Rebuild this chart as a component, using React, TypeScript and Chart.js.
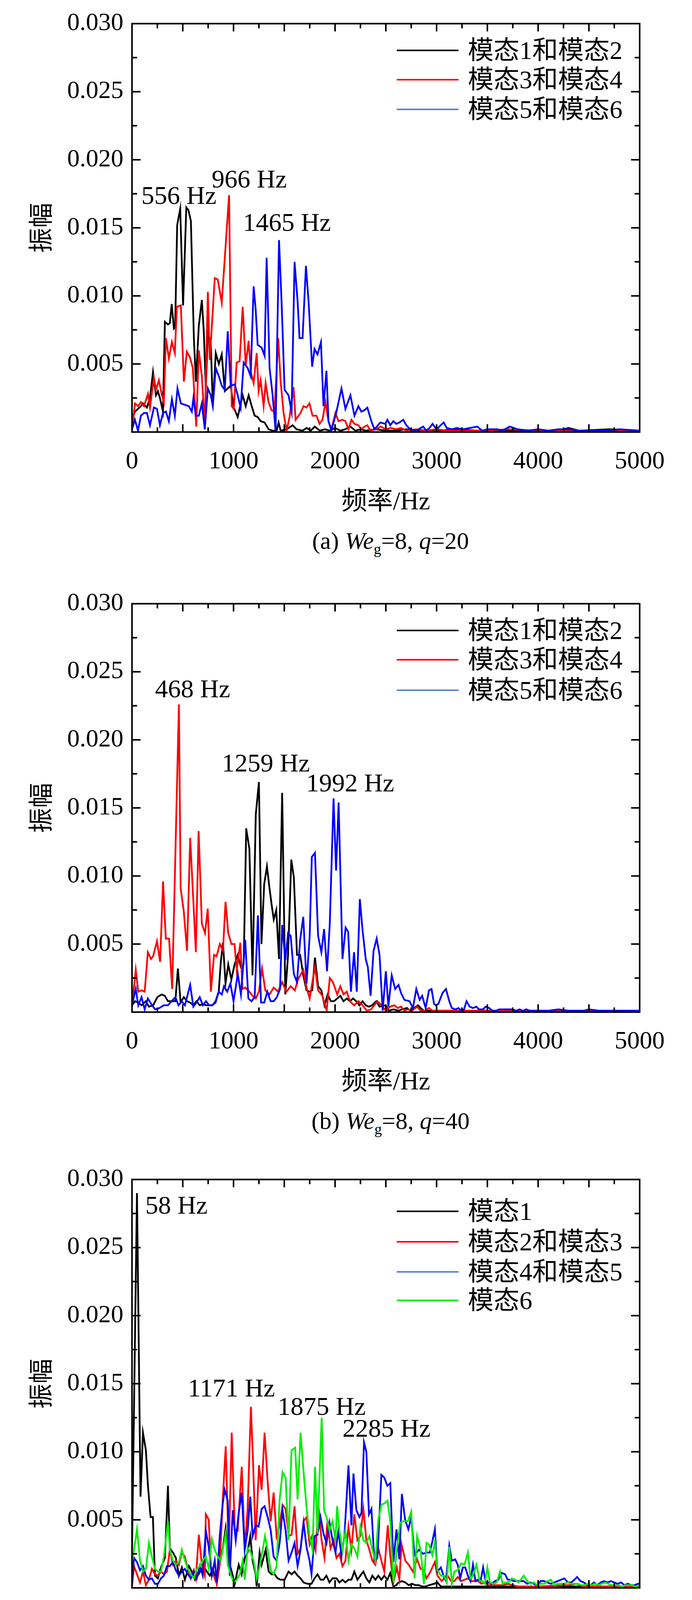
import React, { useEffect, useRef } from 'react';
import { Chart, registerables } from 'chart.js';

Chart.register(...registerables);

const SERIF = '"Liberation Serif", "Times New Roman", "Noto Sans CJK SC", serif';

type Pair = [number, number];

// ---------- axis ticks ----------
const X_TICKS = [0, 1000, 2000, 3000, 4000, 5000];
const Y_TICKS = [0.005, 0.01, 0.015, 0.02, 0.025, 0.03];

// ---------- panel (a) We_g=8, q=20 ----------
const A_MODE12: Pair[] = [[0,0.0002],[15,0.0012],[29,0.0015],[59,0.0017],[88,0.0019],[108,0.0021],[147,0.0018],[177,0.0025],[207,0.0044],[236,0.0027],[255,0.003],[275,0.0025],[305,0.0015],[324,0.0081],[354,0.0079],[373,0.008],[391,0.0094],[413,0.0076],[425,0.0077],[445,0.0152],[475,0.0164],[503,0.0093],[535,0.0165],[556,0.0163],[580,0.0155],[609,0.007],[629,0.0037],[658,0.0078],[688,0.0097],[707,0.0074],[727,0.0032],[747,0.0073],[776,0.0065],[796,0.0019],[825,0.0058],[855,0.005],[884,0.0057],[914,0.003],[943,0.0032],[972,0.0034],[1002,0.0018],[1041,0.0011],[1090,0.0027],[1120,0.0019],[1149,0.0027],[1179,0.0019],[1208,0.0012],[1238,0.0011],[1267,0.0008],[1306,0.0007],[1346,0.0002],[1385,0.0001],[1424,0.0001],[1444,0.0007],[1464,0.0001],[1523,0.0002],[1582,0.0005],[1621,0.0002],[1680,0.0001],[1720,0.0003],[1760,0.0001],[1800,0.0004],[1850,0.0001],[1900,0.0002],[1950,0.0001],[2000,0.0003],[2050,0.0001],[2100,0.0002],[2150,0.0004],[2200,0.0001],[2250,0.0002],[2300,0.0001],[2400,0.0002],[2500,0.0001],[2600,0.0001],[2700,0.0002],[2800,0.0001],[3000,0.0001],[3200,0.0002],[3400,0.0001],[3600,0.0001],[3800,0.0001],[4000,0.0001],[4200,0.0001],[4300,0.0003],[4400,0.0001],[4700,0.0002],[5000,0.0001]];
const A_MODE34: Pair[] = [[0,0.0001],[29,0.0021],[59,0.0019],[88,0.0022],[118,0.0019],[157,0.0028],[177,0.0018],[216,0.004],[236,0.0031],[265,0.0038],[295,0.0027],[314,0.0022],[334,0.0069],[363,0.0054],[393,0.0066],[422,0.0058],[442,0.0092],[481,0.0093],[511,0.0037],[540,0.0059],[570,0.0055],[599,0.0047],[633,0.0004],[658,0.006],[688,0.0041],[717,0.0004],[747,0.0103],[766,0.0053],[786,0.0077],[815,0.0113],[845,0.0112],[884,0.0095],[956,0.0174],[982,0.0019],[1002,0.0017],[1031,0.0051],[1060,0.0052],[1090,0.0092],[1120,0.0049],[1149,0.0067],[1170,0.0044],[1198,0.0036],[1228,0.0058],[1247,0.003],[1267,0.0038],[1296,0.0019],[1316,0.0036],[1345,0.0022],[1375,0.0016],[1404,0.0015],[1440,0.0069],[1464,0.0037],[1493,0.0014],[1523,0.0001],[1552,0.0011],[1591,0.0033],[1611,0.0009],[1631,0.0011],[1660,0.0014],[1690,0.0019],[1719,0.0018],[1748,0.0021],[1778,0.0012],[1817,0.0012],[1847,0.0006],[1876,0.0009],[1906,0.0022],[1935,0.0008],[1964,0.0002],[2004,0.0014],[2033,0.0008],[2073,0.0009],[2102,0.0008],[2132,0.0002],[2161,0.0009],[2191,0.0006],[2230,0.0005],[2259,0.0002],[2289,0.0004],[2318,0.0005],[2348,0.0001],[2400,0.0002],[2450,0.0004],[2500,0.0002],[2550,0.0003],[2600,0.0002],[2650,0.0003],[2700,0.0001],[2800,0.0002],[2900,0.0001],[3000,0.0002],[3100,0.0001],[3300,0.0001],[3500,0.0001],[3700,0.0002],[4000,0.0001],[4300,0.0001],[4600,0.0001],[5000,0.0001]];
const A_MODE56: Pair[] = [[0,0.0002],[29,0.0009],[59,0.0001],[88,0.0012],[118,0.0014],[147,0.0014],[177,0.0005],[216,0.0018],[246,0.0017],[275,0.0005],[305,0.0014],[334,0.0015],[363,0.0008],[393,0.0024],[422,0.0012],[448,0.0032],[481,0.0021],[521,0.002],[560,0.0019],[589,0.0015],[605,0.0025],[629,0.0012],[658,0.0012],[688,0.0021],[717,0.0002],[747,0.0032],[776,0.0027],[796,0.0019],[825,0.0047],[855,0.0041],[884,0.0034],[914,0.0031],[943,0.0074],[972,0.0034],[1012,0.0035],[1041,0.0027],[1070,0.0018],[1100,0.0051],[1139,0.0047],[1169,0.0041],[1198,0.0107],[1218,0.009],[1238,0.0064],[1277,0.0062],[1306,0.0056],[1326,0.0128],[1355,0.0047],[1385,0.0027],[1414,0.0001],[1448,0.0141],[1473,0.0096],[1503,0.0031],[1542,0.0027],[1572,0.0015],[1601,0.0125],[1631,0.0096],[1650,0.0069],[1680,0.0069],[1713,0.0122],[1739,0.0096],[1774,0.0048],[1798,0.0061],[1827,0.0057],[1861,0.0066],[1886,0.0019],[1915,0.0045],[1935,0.0008],[1964,0.0001],[2014,0.0015],[2063,0.0032],[2102,0.0017],[2151,0.0027],[2191,0.0012],[2230,0.0019],[2259,0.0015],[2289,0.0016],[2318,0.0018],[2357,0.0008],[2387,0.0002],[2446,0.0007],[2495,0.0006],[2515,0.0009],[2544,0.0005],[2574,0.0008],[2603,0.0006],[2633,0.0007],[2672,0.0009],[2701,0.0005],[2740,0.0002],[2800,0.0001],[2868,0.0004],[2897,0.0001],[2930,0.0003],[2960,0.0006],[3000,0.0002],[3040,0.0005],[3070,0.0007],[3100,0.0003],[3150,0.0002],[3200,0.0003],[3260,0.0002],[3330,0.0003],[3400,0.0004],[3450,0.0001],[3500,0.0002],[3600,0.0002],[3650,0.0001],[3720,0.0004],[3800,0.0002],[3900,0.0001],[4000,0.0002],[4100,0.0001],[4200,0.0002],[4300,0.0002],[4400,0.0001],[4500,0.0001],[4700,0.0001],[4800,0.0002],[5000,0.0001]];

// ---------- panel (b) We_g=8, q=40 ----------
const B_MODE12: Pair[] = [[0,0.0005],[31,0.0008],[62,0.0007],[94,0.0005],[135,0.0008],[167,0.0004],[208,0.0005],[250,0.0011],[292,0.0013],[323,0.0012],[354,0.0008],[396,0.0008],[427,0.0008],[452,0.0032],[479,0.0007],[510,0.0011],[542,0.0008],[573,0.0007],[604,0.0005],[635,0.0008],[667,0.0005],[698,0.0006],[729,0.0005],[760,0.0005],[792,0.0005],[823,0.0008],[854,0.0015],[875,0.0037],[896,0.0051],[921,0.0021],[948,0.0035],[979,0.0024],[1010,0.0035],[1042,0.0042],[1073,0.0033],[1100,0.0035],[1125,0.0135],[1156,0.012],[1187,0.0027],[1219,0.0145],[1250,0.0169],[1275,0.005],[1302,0.0094],[1329,0.0107],[1356,0.009],[1375,0.0079],[1396,0.0068],[1421,0.0075],[1448,0.0039],[1479,0.0161],[1510,0.0013],[1537,0.0042],[1569,0.0112],[1594,0.0099],[1625,0.0042],[1656,0.0042],[1687,0.0027],[1719,0.0016],[1750,0.0015],[1775,0.0016],[1802,0.004],[1833,0.0019],[1865,0.0016],[1896,0.0005],[1927,0.0013],[1958,0.0008],[1990,0.0008],[2021,0.001],[2052,0.0012],[2083,0.0008],[2115,0.001],[2146,0.0008],[2177,0.001],[2208,0.0008],[2240,0.0005],[2271,0.0008],[2302,0.0005],[2333,0.0004],[2365,0.0005],[2406,0.0008],[2438,0.0004],[2500,0.0005],[2525,0.0001],[2575,0.0002],[2625,0.0001],[2658,0.0002],[2708,0.0003],[2742,0.0001],[2817,0.0005],[2842,0.0003],[2875,0.0001],[2958,0.0001],[3050,0.0001],[3150,0.0001],[3300,0.0001],[3500,0.0001],[4000,0.0001],[4500,0.0001],[5000,0.0001]];
const B_MODE34: Pair[] = [[0,0.0004],[37,0.0031],[62,0.0015],[94,0.0016],[125,0.0015],[156,0.0044],[187,0.0039],[208,0.0041],[246,0.0052],[277,0.0037],[306,0.0096],[333,0.0054],[365,0.0054],[396,0.0017],[462,0.0226],[479,0.0091],[510,0.0074],[542,0.0045],[573,0.0128],[604,0.0082],[629,0.0044],[656,0.0133],[688,0.0065],[719,0.0058],[746,0.0076],[777,0.0015],[808,0.0042],[833,0.0041],[865,0.005],[896,0.0045],[921,0.0081],[948,0.0058],[979,0.005],[1010,0.005],[1031,0.0031],[1067,0.0051],[1088,0.0017],[1115,0.0018],[1156,0.0015],[1187,0.0012],[1219,0.001],[1250,0.0015],[1281,0.0032],[1313,0.0016],[1354,0.0013],[1396,0.0018],[1438,0.0015],[1479,0.0022],[1521,0.0015],[1563,0.0019],[1604,0.0016],[1635,0.0024],[1687,0.0031],[1719,0.0018],[1750,0.001],[1781,0.0024],[1802,0.0033],[1833,0.0016],[1875,0.0012],[1917,0.0001],[1948,0.0025],[1979,0.0022],[2021,0.0013],[2052,0.0019],[2083,0.0013],[2115,0.0015],[2146,0.0008],[2188,0.0005],[2229,0.0008],[2271,0.0005],[2313,0.0001],[2354,0.0002],[2417,0.0008],[2458,0.0005],[2500,0.0001],[2542,0.0004],[2583,0.0005],[2617,0.0003],[2650,0.0004],[2683,0.0001],[2717,0.0002],[2758,0.0001],[2808,0.0004],[2842,0.0001],[2883,0.0001],[2925,0.0003],[2958,0.0001],[3000,0.0001],[3200,0.0001],[3400,0.0001],[3600,0.0001],[3800,0.0001],[4000,0.0001],[4500,0.0001],[5000,0.0001]];
const B_MODE56: Pair[] = [[0,0.0005],[37,0.0017],[62,0.0005],[94,0.0011],[125,0.0002],[156,0.001],[198,0.0005],[229,0.0002],[271,0.0003],[312,0.0005],[354,0.0005],[427,0.0011],[458,0.0005],[490,0.0008],[521,0.0005],[573,0.002],[604,0.0004],[635,0.0007],[667,0.0011],[698,0.0005],[729,0.0008],[760,0.0005],[792,0.0005],[823,0.0007],[854,0.0015],[885,0.0013],[906,0.0019],[938,0.0015],[969,0.0021],[1000,0.0008],[1042,0.0028],[1073,0.0013],[1115,0.0053],[1146,0.001],[1177,0.0008],[1208,0.0011],[1240,0.0071],[1271,0.0007],[1302,0.0007],[1333,0.0015],[1365,0.0008],[1396,0.0008],[1427,0.0011],[1458,0.0017],[1479,0.0064],[1510,0.0038],[1537,0.0058],[1563,0.0056],[1594,0.0028],[1625,0.0022],[1656,0.0053],[1687,0.007],[1719,0.0021],[1750,0.0056],[1771,0.0114],[1802,0.0117],[1833,0.0056],[1865,0.0044],[1892,0.0061],[1921,0.003],[1948,0.0065],[1985,0.0157],[2010,0.0104],[2035,0.0154],[2073,0.0039],[2104,0.0062],[2129,0.0059],[2156,0.0015],[2187,0.0044],[2214,0.0015],[2244,0.0083],[2271,0.006],[2302,0.0039],[2323,0.0033],[2350,0.0012],[2379,0.0045],[2410,0.0054],[2438,0.0042],[2469,0.0001],[2500,0.003],[2525,0.0004],[2558,0.0027],[2592,0.0017],[2625,0.002],[2650,0.0014],[2683,0.0009],[2733,0.0008],[2767,0.0003],[2800,0.0017],[2833,0.0009],[2858,0.0012],[2892,0.0003],[2925,0.0016],[2950,0.0017],[2975,0.0006],[2992,0.0005],[3017,0.0006],[3058,0.0014],[3092,0.0017],[3125,0.0008],[3150,0.0003],[3183,0.0002],[3217,0.0003],[3242,0.0001],[3270,0.0002],[3295,0.0008],[3325,0.0004],[3358,0.0003],[3392,0.0004],[3417,0.0002],[3458,0.0002],[3483,0.0004],[3517,0.0003],[3550,0.0001],[3583,0.0001],[3617,0.0002],[3650,0.0002],[3683,0.0002],[3717,0.0002],[3750,0.0002],[3783,0.0001],[3817,0.0002],[3850,0.0001],[3883,0.0002],[3917,0.0001],[4000,0.0001],[4100,0.0001],[4200,0.0002],[4300,0.0001],[4450,0.0001],[4500,0.0002],[4600,0.0001],[4800,0.0001],[5000,0.0001]];

// ---------- panel (c) We_g=8, q=60 ----------
const C_MODE1: Pair[] = [[0,0.0025],[49,0.029],[84,0.0067],[108,0.0114],[137,0.0101],[157,0.0075],[183,0.0052],[206,0.0052],[226,0.0009],[255,0.0007],[285,0.0015],[324,0.0022],[354,0.0075],[373,0.0029],[403,0.0026],[432,0.0022],[462,0.0009],[491,0.0015],[521,0.0006],[560,0.0016],[589,0.0012],[619,0.0006],[648,0.0009],[678,0.0013],[707,0.0016],[737,0.0012],[766,0.0009],[796,0.0014],[835,0.0003],[864,0.002],[894,0.0029],[923,0.0044],[953,0.002],[982,0.0012],[1012,0.0003],[1051,0.0017],[1080,0.001],[1110,0.0022],[1139,0.0026],[1165,0.0038],[1188,0.002],[1218,0.001],[1228,0.0001],[1257,0.0026],[1277,0.0017],[1316,0.0028],[1346,0.0012],[1375,0.001],[1405,0.001],[1434,0.0007],[1464,0.0006],[1503,0.0006],[1542,0.0012],[1572,0.001],[1601,0.0012],[1631,0.0009],[1660,0.0007],[1690,0.0004],[1729,0.0003],[1768,0.0003],[1798,0.0007],[1827,0.001],[1857,0.0006],[1886,0.0006],[1915,0.0009],[1945,0.0004],[1974,0.0007],[2014,0.0007],[2043,0.0004],[2073,0.0006],[2102,0.0004],[2132,0.0006],[2161,0.0006],[2190,0.0012],[2220,0.0006],[2249,0.0009],[2279,0.0012],[2308,0.0007],[2338,0.0004],[2367,0.0009],[2397,0.0006],[2426,0.0009],[2456,0.0006],[2485,0.0009],[2515,0.0006],[2544,0.0011],[2574,0.0001],[2603,0.0002],[2625,0.0004],[2658,0.0005],[2692,0.0004],[2725,0.0002],[2758,0.0003],[2792,0.0002],[2825,0.0002],[2858,0.0001],[2892,0.0001],[2925,0.0002],[2975,0.0003],[3008,0.0004],[3042,0.0001],[3200,0.0001],[3500,0.0001],[4000,0.0001],[4500,0.0001],[5000,0.0001]];
const C_MODE23: Pair[] = [[0,0.0001],[20,0.0016],[49,0.001],[79,0.0004],[108,0.0012],[137,0.0002],[167,0.0006],[196,0.0014],[226,0.001],[255,0.0009],[285,0.0012],[314,0.001],[344,0.0012],[373,0.0028],[403,0.0017],[432,0.002],[462,0.0017],[491,0.0026],[520,0.0023],[550,0.0014],[579,0.0007],[609,0.0013],[629,0.0007],[658,0.0039],[688,0.0017],[717,0.0009],[727,0.0054],[756,0.005],[776,0.0016],[805,0.0009],[835,0.0003],[864,0.0017],[894,0.0065],[923,0.0104],[953,0.0026],[982,0.0114],[1012,0.0043],[1041,0.0042],[1081,0.0089],[1110,0.0028],[1139,0.0058],[1171,0.0133],[1192,0.0093],[1218,0.0035],[1251,0.009],[1277,0.0072],[1306,0.0114],[1336,0.0078],[1365,0.0049],[1395,0.007],[1424,0.0038],[1454,0.0046],[1483,0.0061],[1513,0.0058],[1542,0.0038],[1572,0.0039],[1601,0.006],[1631,0.0025],[1660,0.0029],[1690,0.0049],[1719,0.0052],[1749,0.0032],[1778,0.0039],[1808,0.0028],[1837,0.006],[1867,0.0035],[1896,0.0022],[1926,0.0049],[1955,0.0029],[1985,0.0035],[2014,0.0022],[2043,0.0025],[2073,0.0016],[2102,0.002],[2132,0.0045],[2161,0.0028],[2190,0.0054],[2220,0.0035],[2249,0.0038],[2279,0.0058],[2308,0.0035],[2338,0.0028],[2367,0.002],[2397,0.0017],[2426,0.0029],[2456,0.002],[2485,0.0012],[2519,0.0046],[2544,0.0023],[2575,0.0004],[2608,0.0015],[2633,0.0006],[2655,0.0032],[2692,0.002],[2725,0.0017],[2767,0.0012],[2808,0.0021],[2842,0.0014],[2875,0.0013],[2900,0.0007],[2933,0.0011],[2983,0.0019],[3008,0.0009],[3050,0.0005],[3075,0.0007],[3108,0.0009],[3142,0.0005],[3175,0.0005],[3208,0.0008],[3242,0.0005],[3275,0.0006],[3308,0.0007],[3342,0.0005],[3375,0.0005],[3408,0.0005],[3442,0.0003],[3475,0.0004],[3508,0.0002],[3558,0.0002],[3642,0.0002],[3708,0.0003],[3742,0.0002],[3808,0.0001],[3900,0.0001],[4000,0.0001],[4300,0.0002],[4380,0.0003],[4450,0.0001],[4600,0.0001],[5000,0.0001]];
const C_MODE45: Pair[] = [[0,0.0003],[20,0.0022],[49,0.0019],[79,0.0013],[108,0.0016],[137,0.0009],[167,0.0006],[196,0.0007],[226,0.0003],[255,0.0003],[285,0.0007],[314,0.0009],[344,0.0016],[373,0.0016],[403,0.0019],[432,0.0013],[462,0.0009],[491,0.0012],[521,0.0014],[550,0.001],[579,0.0007],[609,0.0012],[638,0.0007],[668,0.0016],[697,0.0009],[727,0.0042],[756,0.003],[786,0.0009],[815,0.002],[835,0.0004],[864,0.0038],[894,0.0062],[913,0.0072],[943,0.0064],[963,0.0009],[992,0.0057],[1022,0.0035],[1051,0.0055],[1081,0.007],[1110,0.0028],[1139,0.0042],[1165,0.0067],[1188,0.0038],[1218,0.0046],[1247,0.0045],[1277,0.0058],[1306,0.006],[1336,0.0052],[1365,0.0043],[1395,0.0023],[1424,0.002],[1454,0.0033],[1483,0.0057],[1513,0.0042],[1542,0.002],[1572,0.0026],[1601,0.0033],[1631,0.0016],[1660,0.0028],[1690,0.0048],[1719,0.003],[1749,0.002],[1768,0.001],[1798,0.0038],[1827,0.0039],[1857,0.0052],[1886,0.004],[1916,0.0033],[1945,0.0048],[1975,0.0035],[2004,0.0026],[2033,0.0042],[2063,0.0023],[2092,0.0038],[2132,0.009],[2161,0.0046],[2181,0.0084],[2210,0.0057],[2240,0.0052],[2260,0.0055],[2285,0.0107],[2308,0.01],[2334,0.0054],[2358,0.0058],[2387,0.002],[2417,0.0022],[2456,0.0083],[2485,0.0081],[2515,0.0075],[2544,0.0077],[2574,0.0019],[2605,0.0043],[2633,0.0021],[2658,0.0069],[2690,0.005],[2722,0.0043],[2750,0.0052],[2783,0.0024],[2825,0.0028],[2867,0.0025],[2900,0.0026],[2933,0.0026],[2958,0.0034],[2983,0.0043],[3008,0.0012],[3042,0.0015],[3067,0.0009],[3092,0.0005],[3125,0.0031],[3150,0.002],[3183,0.0021],[3208,0.0017],[3233,0.0007],[3258,0.0015],[3283,0.0015],[3308,0.0009],[3333,0.0005],[3358,0.0017],[3383,0.0005],[3408,0.0006],[3433,0.0005],[3458,0.0015],[3483,0.0004],[3508,0.0004],[3542,0.0003],[3575,0.0005],[3608,0.0006],[3642,0.0011],[3675,0.001],[3700,0.0006],[3725,0.0006],[3758,0.0005],[3792,0.0005],[3825,0.0005],[3858,0.0005],[3892,0.0003],[3925,0.0004],[3958,0.0003],[3992,0.0002],[4025,0.0005],[4058,0.0005],[4092,0.0004],[4125,0.0003],[4158,0.0004],[4192,0.0005],[4225,0.0006],[4258,0.0007],[4292,0.0004],[4325,0.0004],[4358,0.0006],[4383,0.0008],[4417,0.0005],[4450,0.0004],[4483,0.0002],[4517,0.0002],[4550,0.0004],[4583,0.0002],[4617,0.0004],[4650,0.0005],[4683,0.0004],[4717,0.0005],[4750,0.0004],[4783,0.0003],[4817,0.0004],[4850,0.0002],[4883,0.0003],[4917,0.0002],[4950,0.0002],[4983,0.0003],[5000,0.0003]];
const C_MODE6: Pair[] = [[0,0.0019],[20,0.0028],[49,0.0043],[79,0.002],[108,0.0012],[137,0.0014],[167,0.0033],[196,0.0023],[226,0.0014],[255,0.0012],[285,0.0012],[314,0.0023],[354,0.0049],[373,0.0028],[403,0.002],[432,0.0017],[462,0.0019],[491,0.0028],[521,0.002],[550,0.0014],[579,0.001],[609,0.0007],[638,0.0014],[668,0.0016],[697,0.002],[727,0.0023],[756,0.0014],[786,0.0036],[815,0.0028],[845,0.0023],[874,0.002],[894,0.0028],[923,0.004],[943,0.0017],[972,0.001],[1002,0.0004],[1031,0.0006],[1061,0.001],[1090,0.002],[1110,0.0006],[1139,0.003],[1169,0.0026],[1198,0.002],[1228,0.0007],[1257,0.0016],[1287,0.0028],[1310,0.0038],[1336,0.0028],[1365,0.0013],[1395,0.001],[1424,0.0016],[1453,0.0064],[1483,0.0085],[1513,0.0081],[1542,0.0035],[1571,0.0101],[1607,0.0103],[1631,0.0065],[1660,0.0114],[1690,0.0085],[1719,0.0059],[1749,0.0038],[1778,0.0028],[1803,0.0089],[1827,0.004],[1868,0.0125],[1892,0.0057],[1916,0.0052],[1945,0.0042],[1975,0.0049],[2004,0.0035],[2020,0.006],[2043,0.0042],[2073,0.0028],[2102,0.0042],[2132,0.002],[2161,0.0032],[2190,0.0029],[2220,0.0023],[2249,0.0045],[2279,0.0035],[2308,0.0033],[2338,0.0038],[2367,0.0028],[2397,0.002],[2426,0.005],[2456,0.0061],[2485,0.0062],[2517,0.0064],[2545,0.0048],[2575,0.0004],[2608,0.0028],[2642,0.0048],[2675,0.0049],[2717,0.0049],[2750,0.0056],[2783,0.0007],[2808,0.0038],[2842,0.0028],[2875,0.0003],[2900,0.0033],[2925,0.0032],[2958,0.0024],[2983,0.0034],[3008,0.0013],[3042,0.0009],[3075,0.0009],[3100,0.0004],[3125,0.003],[3150,0.0003],[3175,0.0012],[3208,0.0013],[3242,0.0018],[3275,0.0017],[3308,0.0026],[3333,0.0007],[3358,0.0009],[3392,0.0017],[3425,0.0005],[3450,0.0005],[3475,0.0003],[3500,0.0015],[3525,0.0004],[3558,0.0003],[3592,0.0004],[3625,0.0012],[3650,0.0003],[3675,0.0004],[3708,0.0004],[3742,0.0007],[3775,0.0006],[3808,0.0004],[3858,0.0009],[3892,0.0005],[3925,0.0003],[3958,0.0004],[3992,0.0002],[4025,0.0003],[4058,0.0003],[4092,0.0005],[4125,0.0006],[4158,0.0002],[4192,0.0003],[4225,0.0003],[4258,0.0003],[4292,0.0004],[4325,0.0003],[4358,0.0003],[4392,0.0003],[4425,0.0002],[4458,0.0002],[4492,0.0003],[4525,0.0002],[4558,0.0003],[4592,0.0002],[4625,0.0003],[4658,0.0004],[4692,0.0003],[4725,0.0002],[4758,0.0002],[4792,0.0002],[4825,0.0001],[4858,0.0002],[4892,0.0002],[4925,0.0002],[4958,0.0001],[5000,0.0002]];

// ---------- legend labels / colours ----------
const LABELS_A = ['模态1和模态2', '模态3和模态4', '模态5和模态6'];
const LABELS_B = ['模态1和模态2', '模态3和模态4', '模态5和模态6'];
const LABELS_C = ['模态1', '模态2和模态3', '模态4和模态5', '模态6'];
const COLORS = ['#000000', '#ff0000', '#0000ff', '#00ee00'];
const LEGEND_COLORS = ['#000000', '#ff0000', '#5b84d6', '#00ee00'];

// ---------- peak annotations: [text, Hz (left edge), amplitude (centre)] ----------
const ANN_A: [string, number, number][] = [['556 Hz', 92, 0.01726], ['966 Hz', 785, 0.01845], ['1465 Hz', 1092, 0.01528]];
const ANN_B: [string, number, number][] = [['468 Hz', 227, 0.02363], ['1259 Hz', 885, 0.01817], ['1992 Hz', 1715, 0.0167]];
const ANN_C: [string, number, number][] = [['58 Hz', 131, 0.02797], ['1171 Hz', 550, 0.01457], ['1875 Hz', 1435, 0.01321], ['2285 Hz', 2073, 0.01159]];

interface PanelDef {
  top: number;
  series: Pair[][];
  labels: string[];
  ann: [string, number, number][];
  tag: string;
  q: number;
  legendRows: number[];
}

const PANELS: PanelDef[] = [
  { top: 0, series: [A_MODE12, A_MODE34, A_MODE56], labels: LABELS_A, ann: ANN_A, tag: '(a)', q: 20, legendRows: [85, 160, 236] },
  { top: 1485, series: [B_MODE12, B_MODE34, B_MODE56], labels: LABELS_B, ann: ANN_B, tag: '(b)', q: 40, legendRows: [85, 160, 238] },
  { top: 2959, series: [C_MODE1, C_MODE23, C_MODE45, C_MODE6], labels: LABELS_C, ann: ANN_C, tag: '(c)', q: 60, legendRows: [98, 176, 253, 326] },
];

const CANVAS_W = 1772;
const CANVAS_H = 1326;
const PLOT_TOP = 44;
const PLOT_LEFT = 338;
const PLOT_RIGHT = 1638;
const X_AXIS_H = 220;

const frameTicksPlugin = {
  id: 'frameTicks',
  afterDraw(chart: any) {
    const { ctx, chartArea } = chart;
    const xs = chart.scales.x;
    const ys = chart.scales.y;
    const { left, right, top, bottom } = chartArea;
    ctx.save();
    ctx.strokeStyle = '#000';
    ctx.lineWidth = 4;
    ctx.lineCap = 'butt';
    ctx.beginPath();
    ctx.rect(left, top, right - left, bottom - top);
    ctx.stroke();
    ctx.beginPath();
    for (let k = 1; k < 20; k++) {
      const px = xs.getPixelForValue(k * 250);
      const len = k % 2 === 0 ? 20 : 12;
      ctx.moveTo(px, bottom);
      ctx.lineTo(px, bottom - len);
      ctx.moveTo(px, top);
      ctx.lineTo(px, top + len);
    }
    for (let k = 1; k < 12; k++) {
      const py = ys.getPixelForValue(k * 0.0025);
      const len = k % 2 === 0 ? 22 : 13;
      ctx.moveTo(left, py);
      ctx.lineTo(left + len, py);
      ctx.moveTo(right, py);
      ctx.lineTo(right - len, py);
    }
    ctx.stroke();
    ctx.restore();
  },
};

const peakLabelPlugin = {
  id: 'peakLabels',
  afterDatasetsDraw(chart: any, _args: any, opts: any) {
    const items: [string, number, number][] = opts.items || [];
    const { ctx } = chart;
    const xs = chart.scales.x;
    const ys = chart.scales.y;
    ctx.save();
    ctx.fillStyle = '#000';
    ctx.font = '66px ' + SERIF;
    ctx.textAlign = 'left';
    ctx.textBaseline = 'middle';
    for (const [t, hz, amp] of items) {
      ctx.fillText(t, xs.getPixelForValue(hz), ys.getPixelForValue(amp));
    }
    ctx.restore();
  },
};

function Panel({ def }: { def: PanelDef }) {
  const ref = useRef<HTMLCanvasElement>(null);
  useEffect(() => {
    if (!ref.current) return;
    const n = def.series.length;
    const chart = new Chart(ref.current, {
      type: 'line',
      data: {
        datasets: def.series.map((s, i) => ({
          label: def.labels[i],
          data: s.map(([x, y]) => ({ x, y })),
          borderColor: COLORS[i],
          backgroundColor: COLORS[i],
          borderWidth: 4.5,
          pointRadius: 0,
          tension: 0,
          fill: false,
          order: n - i,
        })),
      },
      options: {
        responsive: false,
        animation: false,
        devicePixelRatio: 1,
        layout: { padding: { top: PLOT_TOP, right: CANVAS_W - PLOT_RIGHT, left: 0, bottom: 0 } },
        plugins: {
          legend: { display: false },
          tooltip: { enabled: false },
          peakLabels: { items: def.ann },
        } as any,
        scales: {
          x: {
            type: 'linear',
            min: 0,
            max: 5000,
            afterBuildTicks: (s: any) => { s.ticks = X_TICKS.map((v) => ({ value: v })); },
            afterFit: (s: any) => { s.height = X_AXIS_H; },
            grid: { display: false, drawTicks: false },
            border: { display: false },
            ticks: {
              color: '#000',
              padding: 38,
              maxRotation: 0,
              font: { family: SERIF, size: 64 },
              callback: (v: any) => String(v),
            },
            title: {
              display: true,
              text: '频率/Hz',
              color: '#000',
              font: { family: SERIF, size: 66 },
              padding: { top: 0, bottom: 0 },
            },
          },
          y: {
            type: 'linear',
            min: 0,
            max: 0.03,
            afterBuildTicks: (s: any) => { s.ticks = Y_TICKS.map((v) => ({ value: v })); },
            afterFit: (s: any) => { s.width = PLOT_LEFT; },
            grid: { display: false, drawTicks: false },
            border: { display: false },
            ticks: {
              color: '#000',
              padding: 22,
              font: { family: SERIF, size: 64 },
              callback: (v: any) => Number(v).toFixed(3),
            },
            title: {
              display: true,
              text: '振幅',
              color: '#000',
              font: { family: '"Noto Sans CJK SC", sans-serif', size: 64 },
              padding: { top: 64, bottom: 0 },
            },
          },
        },
      },
      plugins: [frameTicksPlugin, peakLabelPlugin],
    } as any);
    return () => chart.destroy();
  }, [def]);

  const plotBottom = CANVAS_H - X_AXIS_H;
  return (
    <div style={{ position: 'absolute', left: 0, top: def.top, width: CANVAS_W, height: 1480 }}>
      <canvas ref={ref} width={CANVAS_W} height={CANVAS_H} style={{ position: 'absolute', left: 0, top: 0, width: CANVAS_W, height: CANVAS_H }} />
      {def.labels.map((lab, i) => (
        <div key={lab} style={{ position: 'absolute', left: 1016, top: PLOT_TOP + def.legendRows[i] - 40, height: 80, display: 'flex', alignItems: 'center', whiteSpace: 'nowrap' }}>
          <div style={{ width: 158, height: 4, background: LEGEND_COLORS[i] }} />
          <span style={{ marginLeft: 24, fontFamily: SERIF, fontSize: 66, lineHeight: '80px', color: '#000' }}>{lab}</span>
        </div>
      ))}
      <div style={{ position: 'absolute', left: 600, width: 800, top: plotBottom + 278 - 45, height: 90, lineHeight: '90px', textAlign: 'center', fontFamily: SERIF, fontSize: 62, color: '#000', whiteSpace: 'nowrap' }}>
        {def.tag} <i>We</i><sub style={{ fontSize: 38, verticalAlign: '-0.35em', lineHeight: 0 }}>g</sub>=8, <i>q</i>={def.q}
      </div>
    </div>
  );
}

export default function App() {
  return (
    <div style={{ position: 'absolute', left: 0, top: 0, width: 1772, height: 4394, background: '#fff', overflow: 'hidden' }}>
      {PANELS.map((p) => (
        <Panel key={p.tag} def={p} />
      ))}
    </div>
  );
}
